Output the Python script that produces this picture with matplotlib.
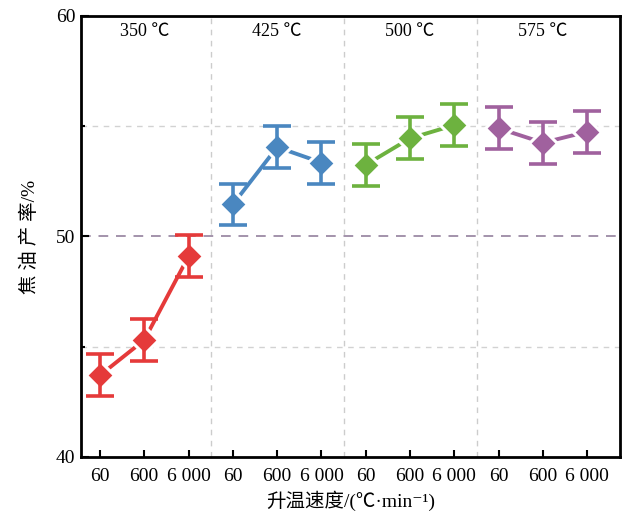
import numpy as np
import matplotlib.pyplot as plt
from matplotlib.ticker import MultipleLocator

plt.rcParams['font.family'] = ['Liberation Serif', 'Noto Sans CJK SC', 'DejaVu Sans']

# data
temps = ['350 ℃', '425 ℃', '500 ℃', '575 ℃']
rates = ['60', '600', '6 000']
tar_yield = [
    [43.7, 45.3, 49.1],   # 350
    [51.45, 54.05, 53.35],  # 425
    [53.25, 54.45, 55.05],  # 500
    [54.9, 54.25, 54.75],   # 575
]
yield_err = [
    [0.95, 0.95, 0.95],
    [0.95, 0.95, 0.95],
    [0.95, 0.95, 0.95],
    [0.95, 0.95, 0.95],
]
colors = ['#E53A3A', '#4A87C0', '#6DB23F', '#A0619E']

fig = plt.figure(figsize=(6.22, 5.14), dpi=100)
ax = fig.add_axes([0.130, 0.111, 0.867, 0.858])

xpos_all = []
for i, (vals, errs, c) in enumerate(zip(tar_yield, yield_err, colors)):
    x = np.arange(3) + 3 * i
    xpos_all.extend(x)
    ax.plot(x, vals, color=c, lw=2.8, zorder=3, solid_capstyle='butt')
    ax.plot(x, vals, 'D', color=c, ms=14, mec='white', mew=2.2, ls='none', zorder=4)
    ax.errorbar(x, vals, yerr=errs, fmt='none', ecolor=c, elinewidth=2.6,
                capsize=10, capthick=2.6, zorder=5)
    ax.text(3 * i + 1, 59.3, temps[i], ha='center', va='center', fontsize=13)

# group dividers and reference lines
for xd in [2.5, 5.5, 8.5]:
    ax.axvline(xd, color='#cccccc', ls=(0, (4, 4)), lw=1.0, zorder=1)
for yv in [45, 55]:
    ax.axhline(yv, color='#d2d2d2', ls=(0, (4, 4)), lw=1.0, zorder=1)
ax.axhline(50, color='#a393ab', ls=(0, (5, 4)), lw=1.4, zorder=1)

ax.set_xlim(-0.43, 11.74)
ax.set_ylim(40, 60)
ax.set_xticks(xpos_all)
ax.set_xticklabels(rates * 4)
ax.yaxis.set_major_locator(MultipleLocator(10))
ax.yaxis.set_minor_locator(MultipleLocator(5))
ax.tick_params(axis='both', which='both', direction='in', labelsize=14, width=1.5)
ax.tick_params(axis='x', length=5, pad=8)
ax.tick_params(axis='y', which='major', length=6, pad=4)
ax.tick_params(axis='y', which='minor', length=3)
for s in ax.spines.values():
    s.set_linewidth(2)

ax.set_xlabel('升温速度/(℃·min⁻¹)', fontsize=14, labelpad=4)
ax.set_ylabel('焦 油 产 率/%', fontsize=14, labelpad=12)

fig.savefig('out.png', dpi=100)
